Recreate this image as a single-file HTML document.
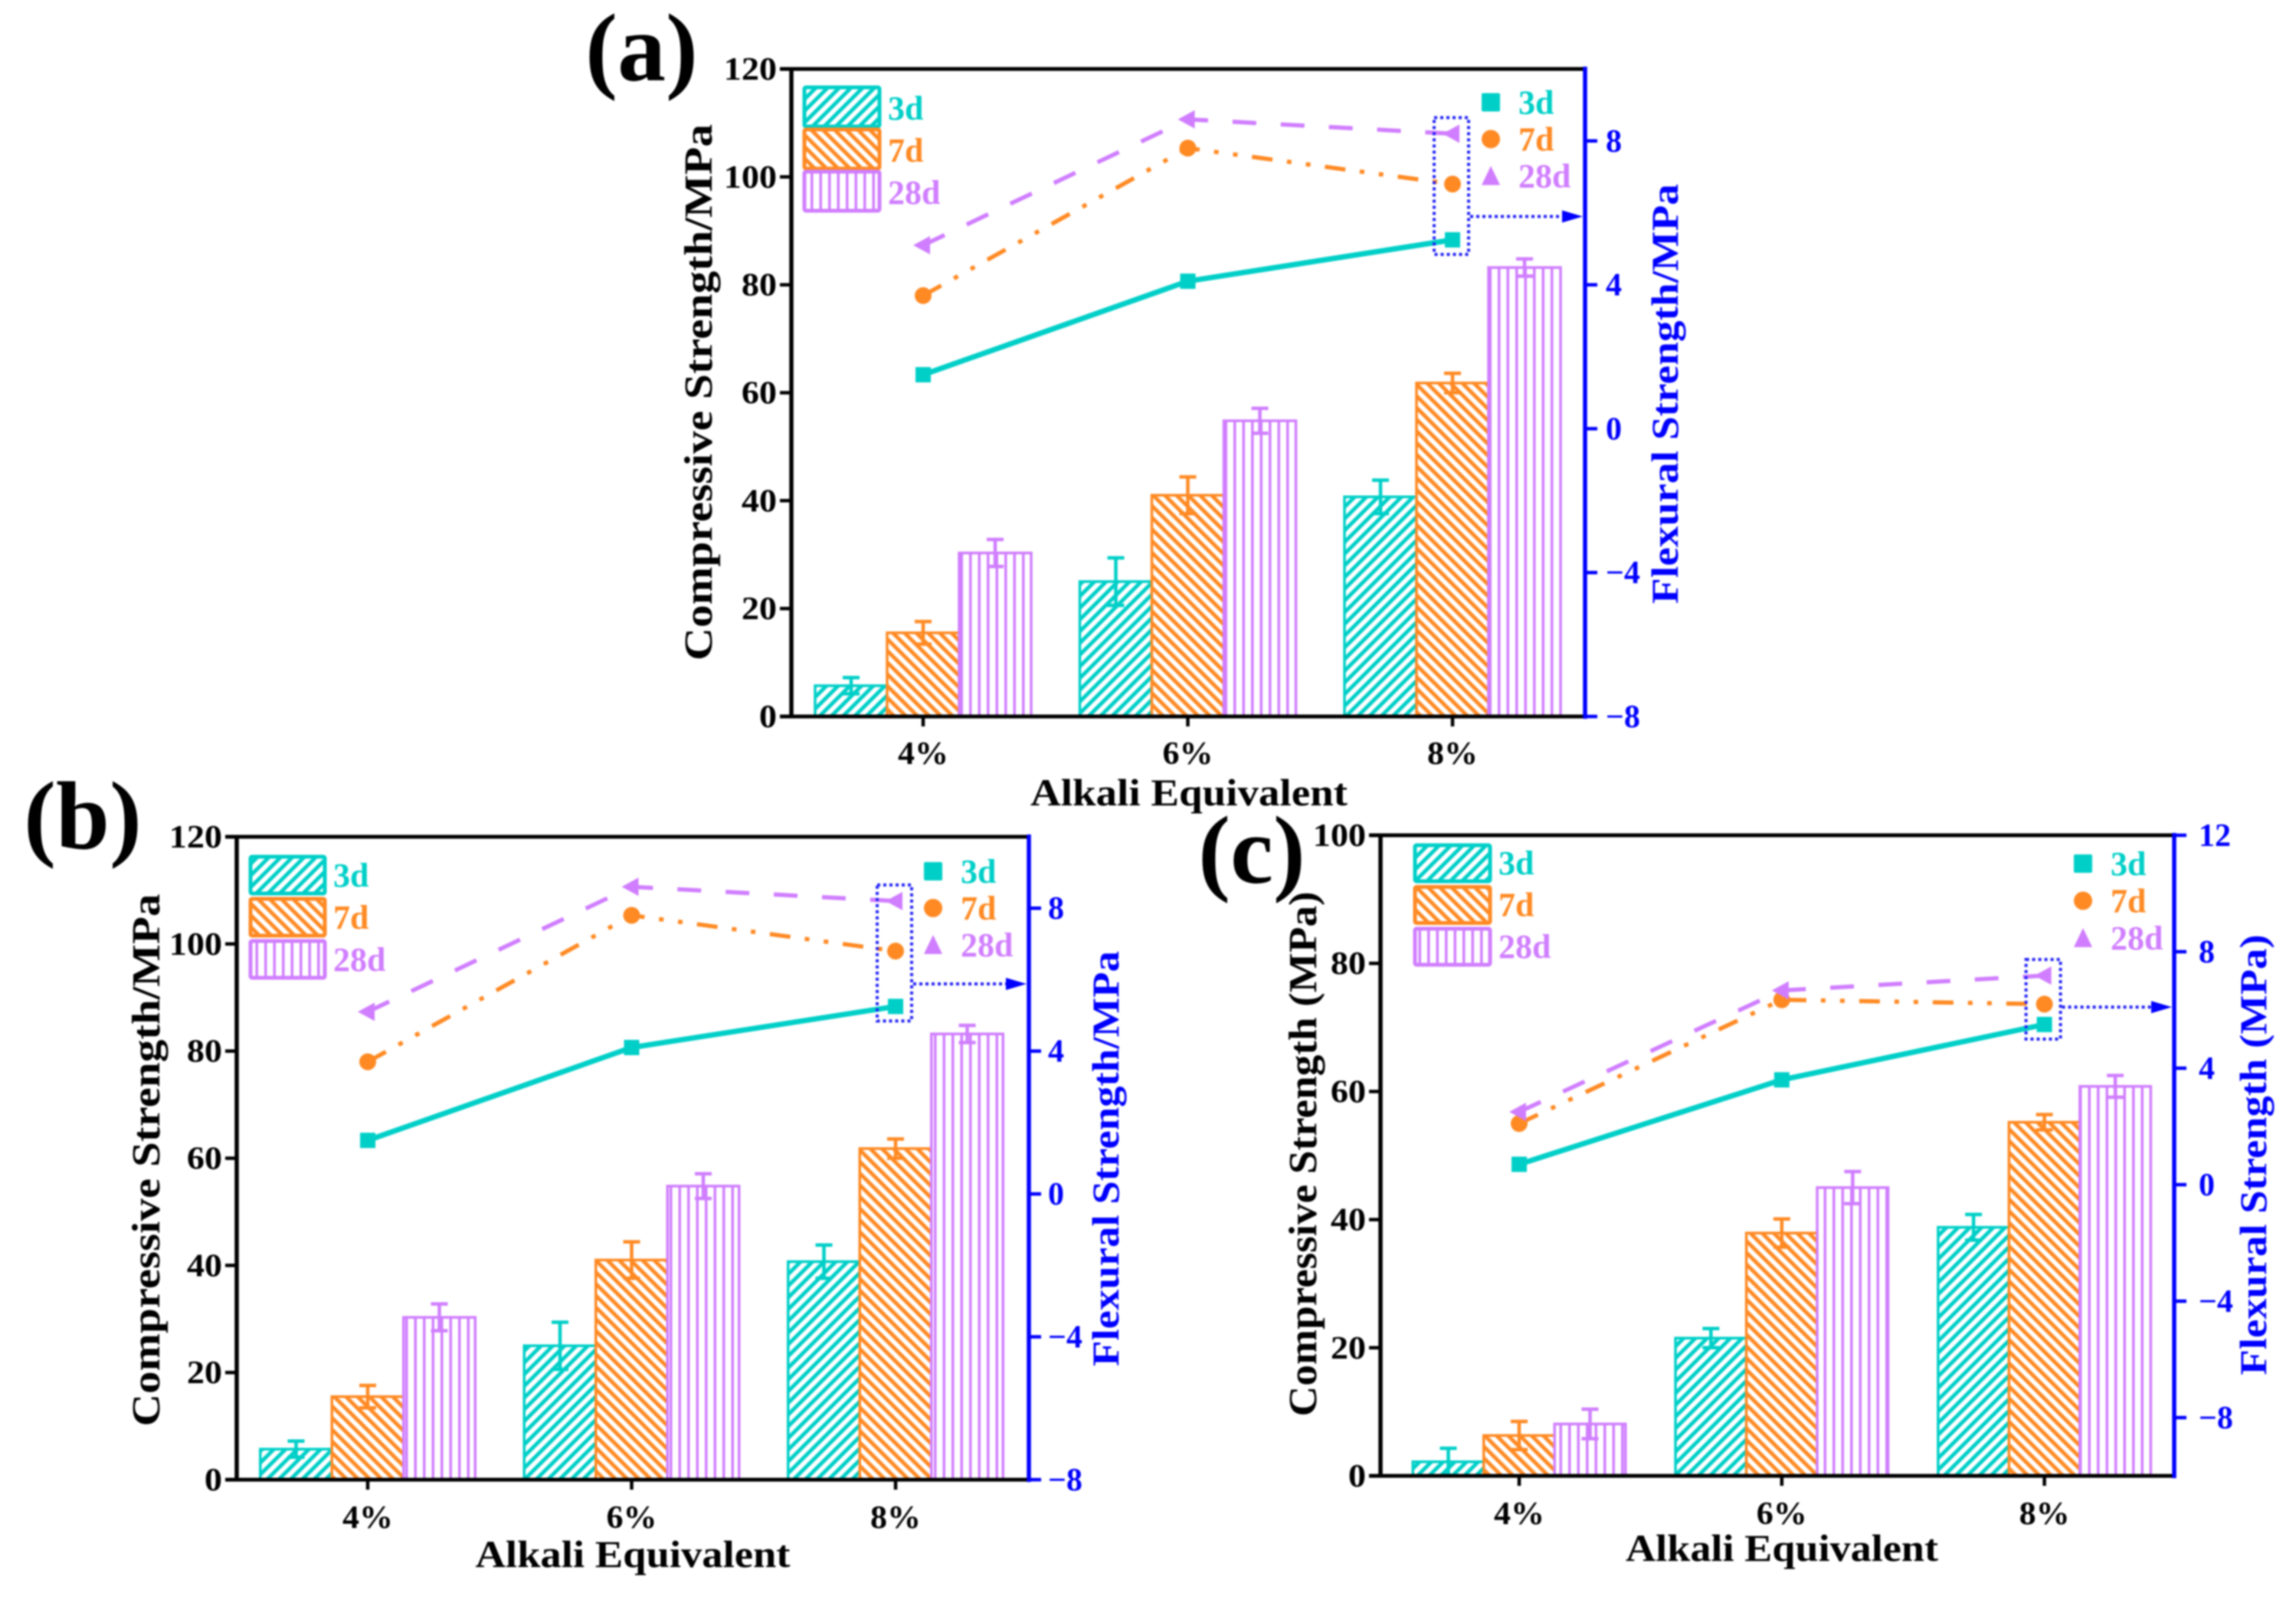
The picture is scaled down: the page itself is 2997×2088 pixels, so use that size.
<!DOCTYPE html>
<html lang="en">
<head>
<meta charset="utf-8">
<title>Compressive and Flexural Strength vs Alkali Equivalent</title>
<style>
html,body{margin:0;padding:0;background:#fff;}
svg{display:block;filter:blur(1.1px);}
text{font-family:"Liberation Serif",serif;font-weight:bold;}
</style>
</head>
<body>
<svg id="figure" xmlns="http://www.w3.org/2000/svg" width="2997" height="2088" viewBox="0 0 2997 2088">
  <defs>
    <pattern id="hatch-3d" patternUnits="userSpaceOnUse" width="10.8" height="10.8" patternTransform="rotate(45)">
      <rect width="10.8" height="10.8" fill="#fff"/><rect width="5" height="10.8" fill="#00CFC8"/>
    </pattern>
    <pattern id="hatch-7d" patternUnits="userSpaceOnUse" width="10.8" height="10.8" patternTransform="rotate(-45)">
      <rect width="10.8" height="10.8" fill="#fff"/><rect width="5" height="10.8" fill="#FF8A24"/>
    </pattern>
    <pattern id="hatch-28d" patternUnits="userSpaceOnUse" width="11.5" height="12">
      <rect width="11.5" height="12" fill="#fff"/><rect width="3.5" height="12" fill="#D07EFF"/>
    </pattern>
  </defs>
</svg>
<script>
// ---------- data: categories and tick labels ----------
const categories = ['4%', '6%', '8%'];
const seriesNames = ['3d', '7d', '28d'];
const leftTicksAB = [0, 20, 40, 60, 80, 100, 120];
const rightTicksAB = [-8, -4, 0, 4, 8];
const leftTicksC = [0, 20, 40, 60, 80, 100];
const rightTicksC = [-8, -4, 0, 4, 8, 12];

// ---------- panel (a) ----------
const compA3d = [5.7, 25.0, 40.7];
const compA7d = [15.5, 41.0, 61.8];
const compA28d = [30.3, 54.8, 83.2];
const errA3d = [1.5, 4.4, 3.1];
const errA7d = [2.1, 3.4, 1.8];
const errA28d = [2.5, 2.3, 1.6];
const flexA3d = [1.5, 4.1, 5.25];
const flexA7d = [3.7, 7.8, 6.8];
const flexA28d = [5.1, 8.6, 8.2];

// ---------- panel (b) ----------
const compB3d = [5.7, 25.0, 40.7];
const compB7d = [15.5, 41.0, 61.8];
const compB28d = [30.3, 54.8, 83.2];
const errB3d = [1.5, 4.4, 3.1];
const errB7d = [2.1, 3.4, 1.8];
const errB28d = [2.5, 2.3, 1.6];
const flexB3d = [1.5, 4.1, 5.25];
const flexB7d = [3.7, 7.8, 6.8];
const flexB28d = [5.1, 8.6, 8.2];

// ---------- panel (c) ----------
const compC3d = [2.2, 21.5, 38.8];
const compC7d = [6.3, 37.9, 55.2];
const compC28d = [8.1, 45.0, 60.8];
const errC3d = [2.1, 1.5, 2.0];
const errC7d = [2.2, 2.2, 1.2];
const errC28d = [2.3, 2.5, 1.7];
const flexC3d = [0.7, 3.6, 5.5];
const flexC7d = [2.1, 6.35, 6.2];
const flexC28d = [2.5, 6.67, 7.18];

// ---------- styling ----------
const COLORS = { '3d': '#00CFC8', '7d': '#FF8A24', '28d': '#D07EFF' };
const BLUE = '#0000FF';
const svg = document.getElementById('figure');
const NS = 'http://www.w3.org/2000/svg';

function mk(parent, tag, attrs, name, interact) {
  const el = document.createElementNS(NS, tag);
  for (const k in attrs) el.setAttribute(k, attrs[k]);
  
  
  parent.appendChild(el);
  return el;
}
function txt(parent, str, attrs, name) {
  const el = mk(parent, 'text', attrs, name, false);
  el.textContent = str;
  return el;
}
function slug(s) { return String(s).replace('%', 'pct').replace('-', 'minus-'); }

function drawPanel(p) {
  const g = mk(svg, 'g', {}, 'panel-' + p.id, false);
  const L = p.left, R = p.right, T = p.top, B = p.bottom;
  const yL = v => B - (v - p.leftMin) / (p.leftMax - p.leftMin) * (B - T);
  const yR = v => B - (v - p.rightMin) / (p.rightMax - p.rightMin) * (B - T);
  const xC = i => p.catX0 + i * p.catStep;
  const bw = p.barW;

  // bars + error bars
  const barsG = mk(g, 'g', {}, 'bars-' + p.id, false);
  seriesNames.forEach((s, si) => {
    const vals = p.comp[si], errs = p.err[si], c = COLORS[s];
    categories.forEach((cat, i) => {
      const cx = xC(i) + (si - 1) * bw;
      const y = yL(vals[i]);
      mk(barsG, 'rect', { x: cx - bw / 2, y: y, width: bw, height: B - y, fill: 'url(#hatch-' + s + ')', stroke: c, 'stroke-width': 3.5 }, 'bar-' + s + '-' + slug(cat), false);
      const top = yL(vals[i] + errs[i]), bot = yL(vals[i] - errs[i]);
      const ep = 'M' + cx + ' ' + top + 'V' + Math.min(bot, B) +
        'M' + (cx - 11) + ' ' + top + 'H' + (cx + 11) +
        (bot < B ? 'M' + (cx - 11) + ' ' + bot + 'H' + (cx + 11) : '');
      mk(barsG, 'path', { d: ep, fill: 'none', stroke: c, 'stroke-width': 4.5 }, 'error-bar-' + s + '-' + slug(cat), false);
    });
  });

  // spines
  mk(g, 'line', { x1: L - 15, y1: T, x2: R, y2: T, stroke: '#000', 'stroke-width': 5 }, 'top-spine', false);
  mk(g, 'line', { x1: L - 15, y1: B, x2: R, y2: B, stroke: '#000', 'stroke-width': 5 }, 'x-axis-line', false);
  mk(g, 'line', { x1: L, y1: T, x2: L, y2: B, stroke: '#000', 'stroke-width': 5.5 }, 'left-y-axis-line', false);
  mk(g, 'line', { x1: R, y1: T - 3, x2: R, y2: B + 3, stroke: BLUE, 'stroke-width': 5.5 }, 'right-y-axis-line', false);

  // left ticks
  p.leftTicks.forEach(t => {
    const y = yL(t);
    mk(g, 'line', { x1: L - 15, y1: y, x2: L, y2: y, stroke: '#000', 'stroke-width': 4.5 }, 'left-tick-' + t, false);
    txt(g, t, { x: L - 19, y: y + 14, 'text-anchor': 'end', 'font-size': 42, fill: '#000', transform: 'translate(' + (L - 19) + ' 0) scale(1.1 1) translate(' + (-(L - 19)) + ' 0)' }, 'left-tick-label-' + t);
  });
  // right ticks
  p.rightTicks.forEach(t => {
    const y = yR(t);
    mk(g, 'line', { x1: R, y1: y, x2: R + 16, y2: y, stroke: BLUE, 'stroke-width': 4.5 }, 'right-tick-' + slug(t), false);
    const lab = t < 0 ? '\u2212' + Math.abs(t) : String(t);
    txt(g, lab, { x: R + p.rightLabelDx, y: y + 14, 'font-size': 42, fill: BLUE }, 'right-tick-label-' + slug(t));
  });
  // x ticks
  categories.forEach((cat, i) => {
    mk(g, 'line', { x1: xC(i), y1: B, x2: xC(i), y2: B + 13, stroke: '#000', 'stroke-width': 4.5 }, 'x-tick-' + slug(cat), false);
    txt(g, cat, { x: xC(i), y: B + p.xTickDy, 'text-anchor': 'middle', 'font-size': 42, fill: '#000', textLength: 66, lengthAdjust: 'spacingAndGlyphs' }, 'x-tick-label-' + slug(cat));
  });

  // titles
  txt(g, 'Alkali Equivalent', { x: p.xTitle[0], y: p.xTitle[1], 'text-anchor': 'middle', 'font-size': 50, fill: '#000', textLength: p.xTitle[2], lengthAdjust: 'spacingAndGlyphs' }, 'x-axis-title');
  txt(g, p.leftTitle[0], { x: 0, y: 0, 'text-anchor': 'middle', 'font-size': 52, fill: '#000', textLength: p.leftTitle[3], lengthAdjust: 'spacingAndGlyphs', transform: 'translate(' + p.leftTitle[1] + ' ' + p.leftTitle[2] + ') rotate(-90)' }, 'left-y-axis-title');
  txt(g, p.rightTitle[0], { x: 0, y: 0, 'text-anchor': 'middle', 'font-size': 50, fill: BLUE, textLength: p.rightTitle[3], lengthAdjust: 'spacingAndGlyphs', transform: 'translate(' + p.rightTitle[1] + ' ' + p.rightTitle[2] + ') rotate(-90)' }, 'right-y-axis-title');
  txt(g, p.label[0], { x: p.label[1], y: p.label[2], 'font-size': 126, fill: '#000' }, 'panel-label-' + p.id);

  // lines + markers
  const dashes = { '3d': null, '7d': '27 19 6 19 6 19', '28d': '31 32' };
  seriesNames.forEach((s, si) => {
    const vals = p.flex[si], c = COLORS[s];
    const pts = vals.map((v, i) => xC(i) + ',' + yR(v)).join(' ');
    const attrs = { points: pts, fill: 'none', stroke: c, 'stroke-width': s === '3d' ? 7 : 5.5 };
    if (dashes[s]) attrs['stroke-dasharray'] = dashes[s];
    mk(g, 'polyline', attrs, 'flexural-line-' + s, false);
    vals.forEach((v, i) => {
      const x = xC(i), y = yR(v), nm = 'flexural-marker-' + s + '-' + slug(categories[i]);
      if (s === '3d') mk(g, 'rect', { x: x - 10, y: y - 10, width: 20, height: 20, fill: c }, nm, false);
      else if (s === '7d') mk(g, 'circle', { cx: x, cy: y, r: 11, fill: c }, nm, false);
      else mk(g, 'polygon', { points: (x - 13) + ',' + y + ' ' + (x + 9) + ',' + (y - 12) + ' ' + (x + 9) + ',' + (y + 12), fill: c }, nm, false);
    });
  });

  // dotted highlight box around the last category + arrow to the right axis
  const lastI = categories.length - 1;
  const lastVals = p.flex.map(a => yR(a[lastI]));
  const boxL = xC(lastI) - 24, boxR = xC(lastI) + 21;
  const boxT = Math.min.apply(null, lastVals) - 21, boxB = Math.max.apply(null, lastVals) + 19;
  mk(g, 'rect', { x: boxL, y: boxT, width: boxR - boxL, height: boxB - boxT, fill: 'none', stroke: '#2222F5', 'stroke-width': 4, 'stroke-dasharray': '4 4' }, 'highlight-box', false);
  const ay = yR(p.arrowValue);
  mk(g, 'line', { x1: boxR + 2, y1: ay, x2: R - 25, y2: ay, stroke: '#2222F5', 'stroke-width': 4, 'stroke-dasharray': '4 4' }, 'axis-arrow-line', false);
  mk(g, 'polygon', { points: (R - 30) + ',' + (ay - 8) + ' ' + (R - 3) + ',' + ay + ' ' + (R - 30) + ',' + (ay + 8), fill: BLUE }, 'axis-arrow-head', false);

  // bar legend
  const lb = p.barLegend;
  seriesNames.forEach((s, i) => {
    const y = lb.y + i * lb.step, c = COLORS[s];
    mk(g, 'rect', { x: lb.x, y: y, width: lb.w, height: lb.h, rx: 2, fill: 'url(#hatch-' + s + ')', stroke: c, 'stroke-width': 5 }, 'bar-legend-swatch-' + s, true);
    txt(g, s, { x: lb.x + lb.w + 11, y: y + lb.h - 9, 'font-size': 44, fill: c }, 'bar-legend-label-' + s);
  });
  // marker legend
  const lm = p.lineLegend;
  seriesNames.forEach((s, i) => {
    const y = lm.y + i * lm.step, c = COLORS[s], nm = 'line-legend-marker-' + s;
    if (s === '3d') mk(g, 'rect', { x: lm.x - 12, y: y - 12, width: 24, height: 24, rx: 2, fill: c }, nm, true);
    else if (s === '7d') mk(g, 'circle', { cx: lm.x, cy: y, r: 12, fill: c }, nm, true);
    else mk(g, 'polygon', { points: (lm.x - 12) + ',' + (y + 12) + ' ' + lm.x + ',' + (y - 13) + ' ' + (lm.x + 12) + ',' + (y + 12), fill: c }, nm, true);
    txt(g, s, { x: lm.x + 36, y: y + 15, 'font-size': 44, fill: c }, 'line-legend-label-' + s);
  });
}

drawPanel({
  id: 'a', left: 1033, right: 2069, top: 90, bottom: 935, catX0: 1205, catStep: 345.5, barW: 94,
  leftMin: 0, leftMax: 120, rightMin: -8, rightMax: 10, arrowValue: 5.9,
  leftTicks: leftTicksAB, rightTicks: rightTicksAB, rightLabelDx: 27, xTickDy: 62,
  comp: [compA3d, compA7d, compA28d], err: [errA3d, errA7d, errA28d], flex: [flexA3d, flexA7d, flexA28d],
  xTitle: [1552, 1051, 414],
  leftTitle: ['Compressive Strength/MPa', 929, 512, 700],
  rightTitle: ['Flexural Strength/MPa', 2190, 514, 548],
  label: ['(a)', 764, 105],
  barLegend: { x: 1050, y: 114, w: 98, h: 51, step: 55 },
  lineLegend: { x: 1946, y: 133.5, step: 48 }
});
drawPanel({
  id: 'b', left: 309, right: 1343, top: 1092, bottom: 1931, catX0: 480, catStep: 344.5, barW: 93.5,
  leftMin: 0, leftMax: 120, rightMin: -8, rightMax: 10, arrowValue: 5.88,
  leftTicks: leftTicksAB, rightTicks: rightTicksAB, rightLabelDx: 25, xTickDy: 63,
  comp: [compB3d, compB7d, compB28d], err: [errB3d, errB7d, errB28d], flex: [flexB3d, flexB7d, flexB28d],
  xTitle: [826, 2045, 411],
  leftTitle: ['Compressive Strength/MPa', 208, 1514, 695],
  rightTitle: ['Flexural Strength/MPa', 1460, 1512, 542],
  label: ['(b)', 31, 1107],
  barLegend: { x: 327, y: 1118, w: 97, h: 48, step: 55 },
  lineLegend: { x: 1218, y: 1137, step: 48 }
});
drawPanel({
  id: 'c', left: 1802, right: 2838, top: 1090, bottom: 1926, catX0: 1983, catStep: 342.8, barW: 92.5,
  leftMin: 0, leftMax: 100, rightMin: -10, rightMax: 12, arrowValue: 6.1,
  leftTicks: leftTicksC, rightTicks: rightTicksC, rightLabelDx: 32, xTickDy: 63,
  comp: [compC3d, compC7d, compC28d], err: [errC3d, errC7d, errC28d], flex: [flexC3d, flexC7d, flexC28d],
  xTitle: [2326, 2037, 408],
  leftTitle: ['Compressive Strength (MPa)', 1718, 1506, 685],
  rightTitle: ['Flexural Strength (MPa)', 2958, 1507, 575],
  label: ['(c)', 1564, 1152],
  barLegend: { x: 1847, y: 1103, w: 98, h: 47, step: 54.5 },
  lineLegend: { x: 2719, y: 1127, step: 48.5 }
});
</script>
</body>
</html>
